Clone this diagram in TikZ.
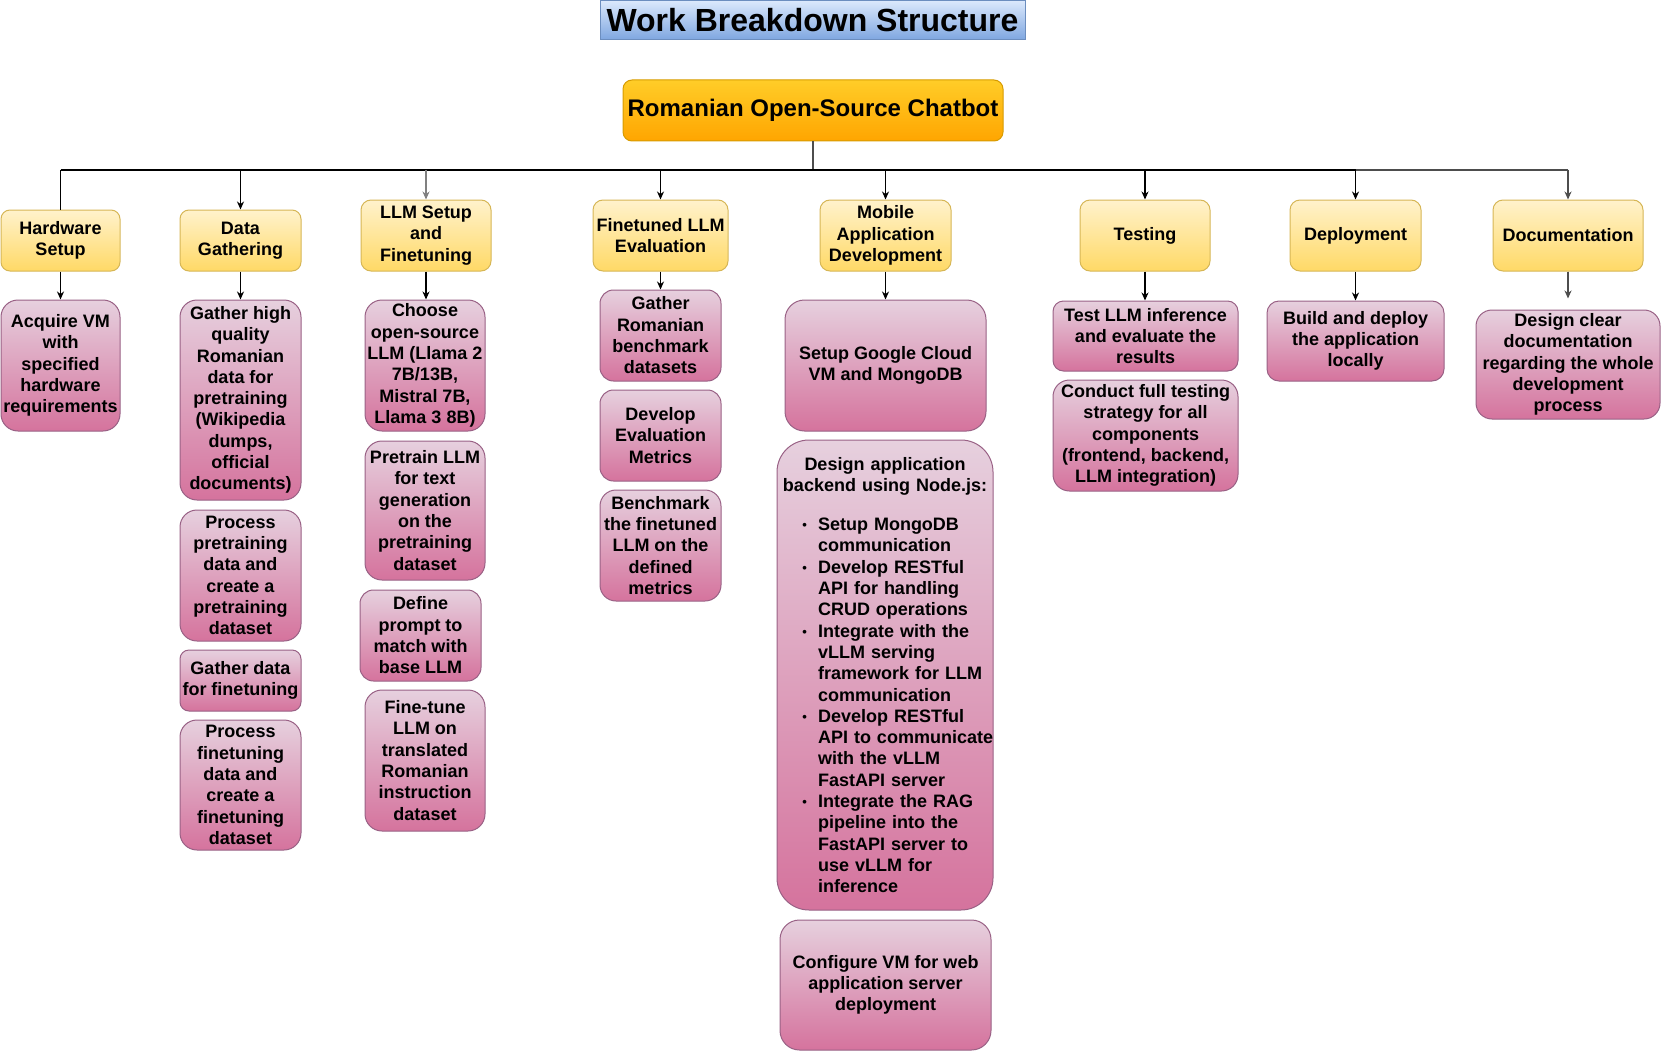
\documentclass[tikz,border=0pt]{standalone}
\usepackage{fontspec}
\setmainfont{Liberation Sans}
\usetikzlibrary{arrows.meta}
\definecolor{ytop}{HTML}{FFF2CC}
\definecolor{ybot}{HTML}{FFD966}
\definecolor{ybord}{HTML}{D6B656}
\definecolor{ptop}{HTML}{E6D0DE}
\definecolor{pbot}{HTML}{D5739D}
\definecolor{pbord}{HTML}{996185}
\definecolor{rtop}{HTML}{FFCD28}
\definecolor{rbot}{HTML}{FFA500}
\definecolor{rbord}{HTML}{D79B00}
\definecolor{ttop}{HTML}{DAE8FC}
\definecolor{tbot}{HTML}{7EA6E0}
\definecolor{tbord}{HTML}{6C8EBF}
\definecolor{lgray}{HTML}{808080}
\definecolor{dgray}{HTML}{4D4D4D}
\newcommand\fs{\fontsize{18}{21.3}\selectfont\bfseries}
\newcommand\bitem[1]{\par\hangindent=41pt\hangafter=0\noindent\llap{\raisebox{1pt}{\fontsize{13}{13}\selectfont\textbullet}\hspace{11pt}}#1\par}
\tikzset{
  ybox/.style={draw=ybord, top color=ytop, bottom color=ybot, line width=1pt, rounded corners=#1, inner sep=0pt, align=center, font=\fs},
  ybox/.default=10pt,
  pbox/.style={draw=pbord, top color=ptop, bottom color=pbot, line width=1pt, rounded corners=#1, inner sep=0pt, align=center, font=\fs},
  pbox/.default=17pt,
  conn/.style={line width=1.2pt, draw=black},
  arr/.style={-{Stealth[length=8pt,width=7pt,inset=2.5pt]}}
}
\begin{document}
\begin{tikzpicture}[x=1pt,y=-1pt]
\useasboundingbox (0,0) rectangle (1661,1051);
% title and root
\node[draw=tbord, top color=ttop, bottom color=tbot, line width=1pt, inner sep=0pt,
      minimum width=425pt, minimum height=39pt, font=\fontsize{32}{38}\selectfont\bfseries] (title) at (812.5,20.5) {Work Breakdown Structure};
\node[draw=rbord, top color=rtop, bottom color=rbot, line width=1pt, rounded corners=9pt, inner sep=0pt,
      minimum width=380pt, minimum height=61pt, font=\fontsize{24}{28}\selectfont\bfseries] (root) at (813,110.5) {Romanian Open-Source Chatbot};
% level 1
\node[ybox=9pt, minimum width=119pt, minimum height=61pt] (hw) at (60.5,240.5) {Hardware\\Setup};
\node[ybox=9pt, minimum width=121pt, minimum height=61pt] (dg) at (240.5,240.5) {Data\\Gathering};
\node[ybox, minimum width=130pt, minimum height=71pt] (llm) at (426,235.5) {LLM Setup\\and\\Finetuning};
\node[ybox, minimum width=135pt, minimum height=71pt] (ft) at (660.5,235.5) {Finetuned LLM\\Evaluation};
\node[ybox, minimum width=131pt, minimum height=71pt] (mob) at (885.5,235.5) {Mobile\\Application\\Development};
\node[ybox, minimum width=130pt, minimum height=71pt] (test) at (1145,235.5) {Testing};
\node[ybox, minimum width=131pt, minimum height=71pt] (dep) at (1355.5,235.5) {Deployment};
\node[ybox, minimum width=150pt, minimum height=71pt] (doc) at (1568,235.5) {Documentation};
% level 2
\node[pbox, minimum width=119pt, minimum height=131pt] (acq) at (60.5,365.5) {Acquire VM\\with\\specified\\hardware\\requirements};
\node[pbox, minimum width=121pt, minimum height=200pt] (g1) at (240.5,400) {Gather high\\quality\\Romanian\\data for\\pretraining\\(Wikipedia\\dumps,\\official\\documents)};
\node[pbox, minimum width=121pt, minimum height=131pt] (g2) at (240.5,575.5) {Process\\pretraining\\data and\\create a\\pretraining\\dataset};
\node[pbox=9pt, minimum width=121pt, minimum height=61pt] (g3) at (240.5,680.5) {Gather data\\for finetuning};
\node[pbox, minimum width=121pt, minimum height=130pt] (g4) at (240.5,785) {Process\\finetuning\\data and\\create a\\finetuning\\dataset};
\node[pbox, minimum width=120pt, minimum height=131pt] (c1) at (425,365.5) {Choose\\open-source\\LLM (Llama 2\\7B/13B,\\Mistral 7B,\\Llama 3 8B)};
\node[pbox, minimum width=120pt, minimum height=139pt] (c2) at (425,510.5) {Pretrain LLM\\for text\\generation\\on the\\pretraining\\dataset};
\node[pbox=13.5pt, minimum width=121pt, minimum height=91pt] (c3) at (420.5,635.5) {Define\\prompt to\\match with\\base LLM};
\node[pbox, minimum width=120pt, minimum height=141pt] (c4) at (425,760.5) {Fine-tune\\LLM on\\translated\\Romanian\\instruction\\dataset};
\node[pbox=13.5pt, minimum width=121pt, minimum height=91pt] (e1) at (660.5,335.5) {Gather\\Romanian\\benchmark\\datasets};
\node[pbox=13.5pt, minimum width=121pt, minimum height=91pt] (e2) at (660.5,435.5) {Develop\\Evaluation\\Metrics};
\node[pbox=16pt, minimum width=121pt, minimum height=111pt] (e3) at (660.5,545.5) {Benchmark\\the finetuned\\LLM on the\\defined\\metrics};
\node[pbox=19.5pt, minimum width=201pt, minimum height=131pt] (m1) at (885.5,365.5) {Setup Google Cloud\\VM and MongoDB};
\node[pbox=32pt, minimum width=216pt, minimum height=470pt, text width=216pt, align=left] (m2) at (885,675) {%
\hyphenpenalty=10000\exhyphenpenalty=10000\hbadness=10000\hfuzz=20pt%
{\centering Design application\\backend using Node.js:\par}\vspace{18pt}%
\bitem{Setup MongoDB\newline communication}%
\bitem{Develop RESTful\newline API for handling\newline CRUD operations}%
\bitem{Integrate with the\newline vLLM serving\newline framework for LLM\newline communication}%
\bitem{Develop RESTful\newline \mbox{API to communicate}\newline with the vLLM\newline FastAPI server}%
\bitem{Integrate the RAG\newline pipeline into the\newline FastAPI server to\newline use vLLM for\newline inference}};
\node[pbox=19.5pt, minimum width=211pt, minimum height=130pt] (m3) at (885.5,985) {Configure VM for web\\application server\\deployment};
\node[pbox=10.5pt, minimum width=185pt, minimum height=70pt] (t1) at (1145.5,336) {Test LLM inference\\and evaluate the\\results};
\node[pbox=16.5pt, minimum width=185pt, minimum height=111pt] (t2) at (1145.5,435.5) {Conduct full testing\\strategy for all\\components\\(frontend, backend,\\LLM integration)};
\node[pbox=12pt, minimum width=177pt, minimum height=80pt] (b1) at (1355.5,341) {Build and deploy\\the application\\locally};
\node[pbox=16pt, minimum width=184pt, minimum height=109pt] (d1) at (1568,364.5) {Design clear\\documentation\\regarding the whole\\development\\process};
% bus
\coordinate (busL) at (60.5,170);
\coordinate (busR) at (1568,170);
\coordinate (busD) at (1355.5,170);
\draw[conn, draw=dgray] (root.south) -- (root.south |- busL);
\draw[conn] (busL) -- (busD);
\draw[conn, draw=dgray] (busD) -- (busR);
\draw[conn] (busL) -- (hw.north);
\draw[conn, arr] (dg.north |- busL) -- (dg.north);
\draw[conn, arr, draw=lgray, fill=lgray] (llm.north |- busL) -- (llm.north);
\draw[conn, arr] (ft.north |- busL) -- (ft.north);
\draw[conn, arr] (mob.north |- busL) -- (mob.north);
\draw[conn, arr] (test.north |- busL) -- (test.north);
\draw[conn, arr] (busD) -- (dep.north);
\draw[conn, arr, draw=dgray, fill=dgray] (busR) -- (doc.north);
% level 2 connectors
\draw[conn, arr] (hw.south) -- (acq.north);
\draw[conn, arr] (dg.south) -- (g1.north);
\draw[conn, arr] (llm.south) -- (llm.south |- c1.north);
\draw[conn, arr] (ft.south) -- (e1.north);
\draw[conn, arr] (mob.south) -- (mob.south |- m1.north);
\draw[conn, arr] (test.south) -- (test.south |- t1.north);
\draw[conn, arr] (dep.south) -- (b1.north);
\draw[conn, arr, draw=dgray, fill=dgray, shorten >=11pt] (doc.south) -- (d1.north);
\end{tikzpicture}
\end{document}
